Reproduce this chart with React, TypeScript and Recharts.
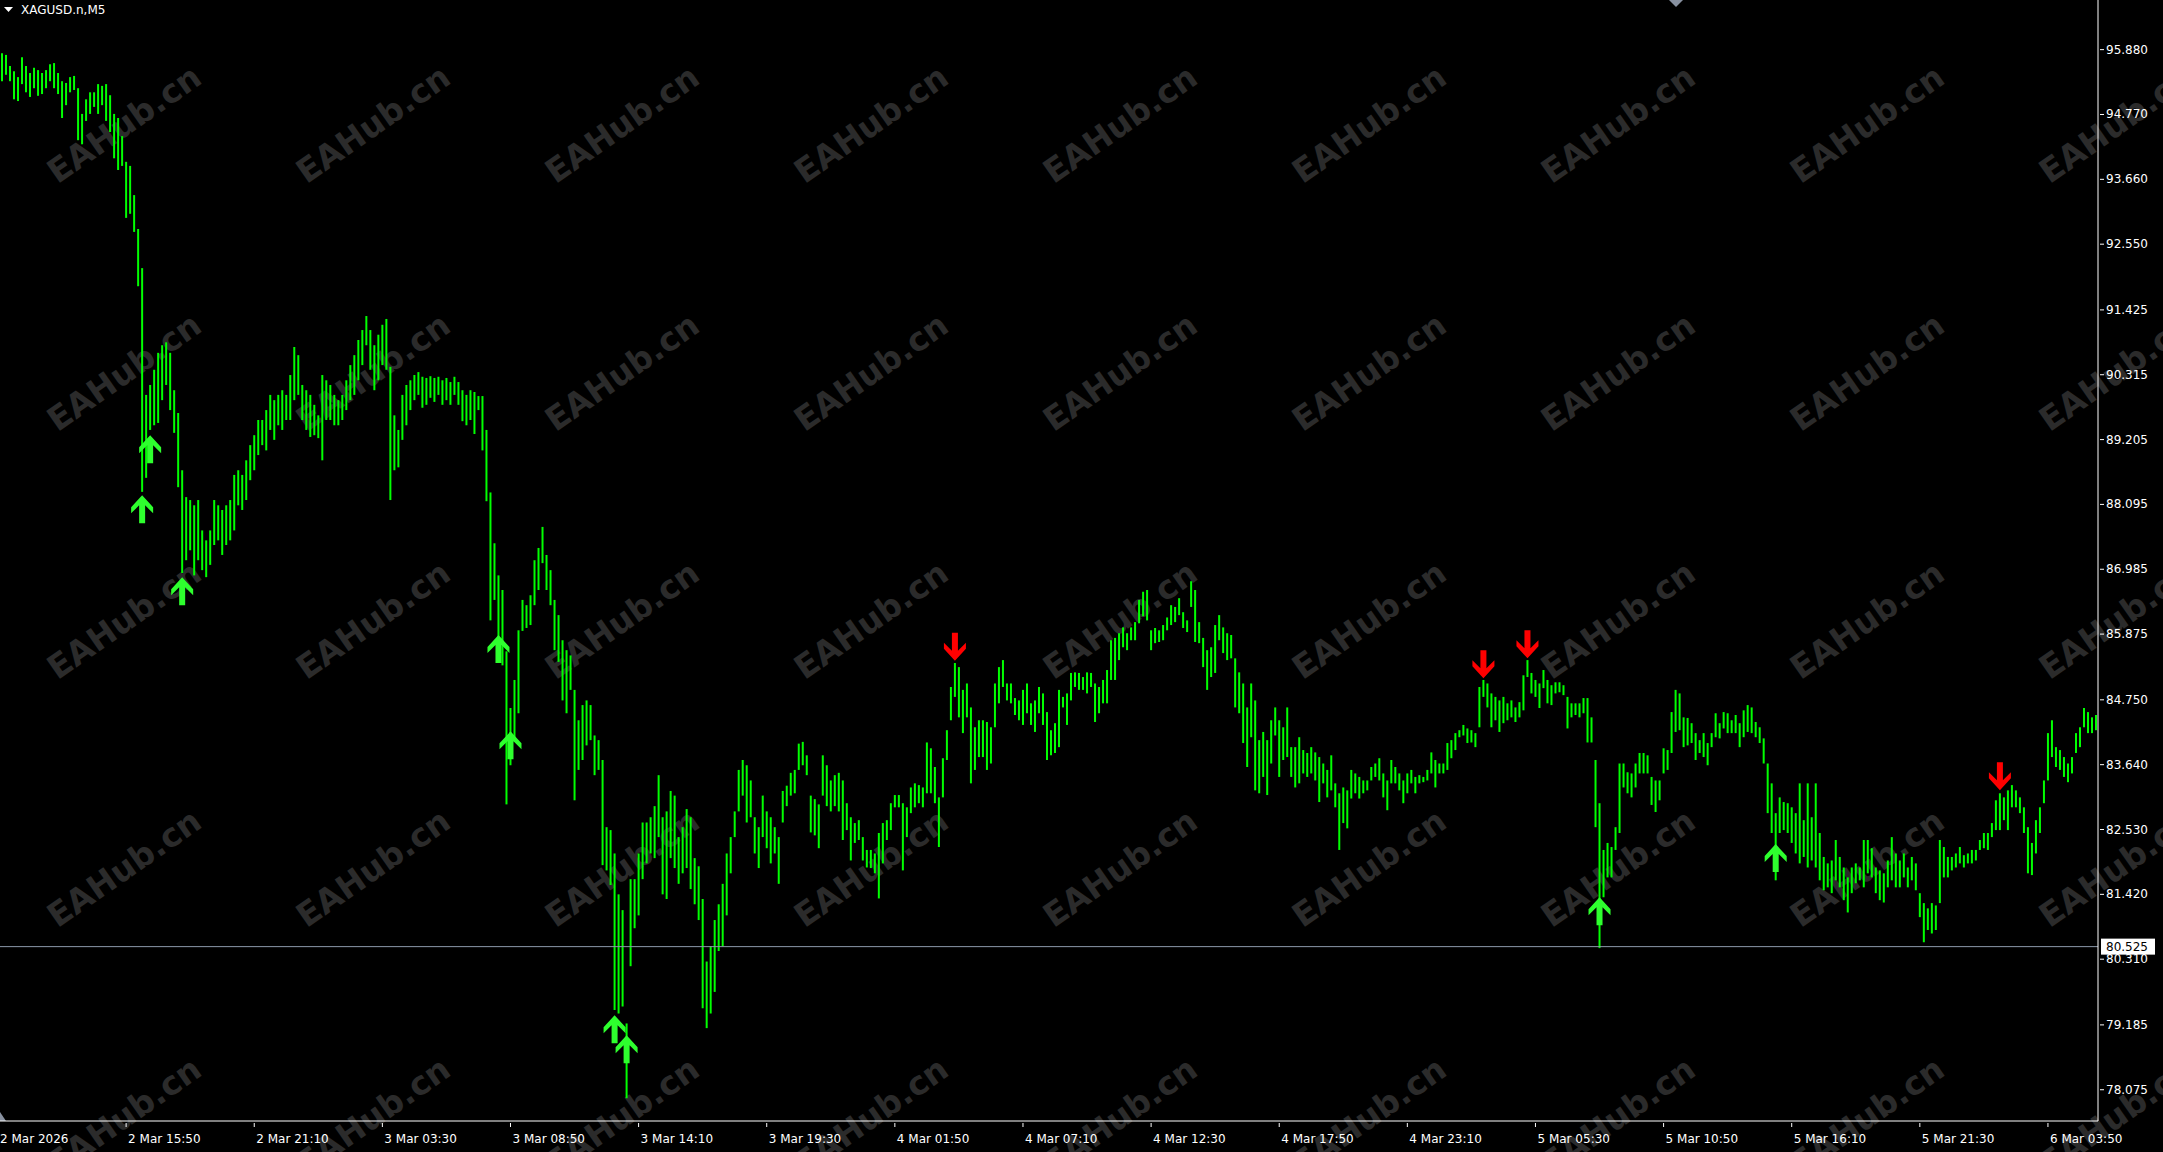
import { Bar, ComposedChart, ReferenceLine, Scatter, XAxis, YAxis } from "recharts";

const W = 2163;
const H = 1152;
const FONT = "DejaVu Sans";

const symbolTitle = "XAGUSD.n,M5";

const timeLabels = [
  "2 Mar 2026", "2 Mar 15:50", "2 Mar 21:10", "3 Mar 03:30", "3 Mar 08:50", "3 Mar 14:10",
  "3 Mar 19:30", "4 Mar 01:50", "4 Mar 07:10", "4 Mar 12:30", "4 Mar 17:50", "4 Mar 23:10",
  "5 Mar 05:30", "5 Mar 10:50", "5 Mar 16:10", "5 Mar 21:30", "6 Mar 03:50",
];

const priceTicks = [
  95.88, 94.77, 93.66, 92.55, 91.425, 90.315, 89.205, 88.095, 86.985,
  85.875, 84.75, 83.64, 82.53, 81.42, 80.31, 79.185, 78.075,
];

const bidPrice = 80.525;

// bar highs, 2 Mar -> 6 Mar
const highs = [
  95.82, 95.79, 95.60, 95.51, 95.41, 95.75, 95.60, 95.48, 95.57, 95.53,
  95.48, 95.53, 95.63, 95.65, 95.48, 95.34, 95.31, 95.41, 95.43, 95.22,
  94.78, 95.03, 95.15, 95.15, 95.29, 95.26, 95.29, 95.10, 94.78, 94.71,
  94.40, 93.96, 93.89, 93.39, 92.81, 92.14, 89.97, 90.14, 90.40, 90.69,
  90.82, 90.87, 90.69, 90.05, 89.66, 88.68, 88.22, 88.17, 88.08, 88.17,
  87.65, 87.48, 87.65, 88.17, 88.08, 88.00, 88.08, 88.17, 88.60, 88.68,
  88.60, 88.85, 89.11, 89.28, 89.54, 89.54, 89.71, 89.97, 89.88, 89.97,
  90.05, 89.97, 90.31, 90.79, 90.65, 90.14, 90.05, 89.97, 89.80, 89.62,
  90.31, 90.22, 90.14, 89.97, 89.88, 89.97, 90.22, 90.48, 90.65, 90.91,
  91.08, 91.32, 91.08, 90.82, 91.00, 91.17, 91.27, 90.45, 89.62, 89.37,
  89.97, 90.14, 90.22, 90.31, 90.36, 90.28, 90.26, 90.29, 90.26, 90.28,
  90.22, 90.26, 90.19, 90.28, 90.19, 90.05, 89.97, 90.05, 90.02, 89.95,
  89.95, 89.37, 88.30, 87.43, 86.88, 86.63, 85.58, 84.61, 85.09, 85.94,
  86.46, 86.37, 86.54, 87.14, 87.35, 87.71, 87.23, 86.97, 86.46, 86.20,
  85.77, 85.60, 85.51, 84.92, 84.40, 84.66, 84.74, 84.66, 84.14, 84.06,
  83.72, 82.57, 82.52, 82.12, 81.42, 81.15, 79.21, 81.68, 81.68, 82.12,
  82.65, 82.65, 82.74, 82.93, 83.46, 82.74, 82.84, 83.19, 83.11, 82.40,
  82.57, 82.88, 82.74, 82.04, 81.90, 81.34, 80.27, 80.53, 80.98, 81.25,
  81.60, 82.12, 82.40, 82.84, 83.55, 83.72, 83.63, 83.37, 82.74, 82.57,
  83.11, 82.84, 82.74, 82.57, 82.40, 83.19, 83.28, 83.50, 83.55, 84.00,
  84.03, 83.80, 83.11, 83.05, 82.96, 83.80, 83.63, 83.37, 83.46, 83.50,
  83.37, 82.98, 82.74, 82.64, 82.69, 82.40, 82.18, 82.18, 82.12, 82.47,
  82.64, 82.69, 82.98, 83.12, 83.12, 82.98, 82.91, 83.25, 83.32, 83.29,
  83.25, 84.02, 83.92, 83.60, 83.08, 83.75, 84.23, 84.97, 85.38, 85.31,
  84.92, 85.03, 84.62, 84.28, 84.40, 84.40, 84.37, 84.28, 85.03, 85.31,
  85.43, 85.03, 85.03, 84.78, 84.74, 84.92, 85.03, 84.69, 84.74, 84.97,
  84.86, 84.54, 84.23, 84.35, 84.92, 84.80, 84.86, 85.21, 85.22, 85.21,
  85.14, 85.22, 85.21, 85.03, 84.97, 85.09, 85.26, 85.77, 85.81, 85.89,
  85.99, 85.89, 85.99, 86.08, 86.46, 86.60, 86.63, 85.94, 85.98, 85.94,
  86.03, 86.16, 86.37, 86.34, 86.49, 86.25, 86.11, 86.78, 86.63, 86.08,
  85.81, 85.60, 85.65, 86.03, 86.20, 85.99, 85.89, 85.86, 85.46, 85.22,
  85.03, 84.62, 85.03, 84.74, 84.06, 84.20, 84.06, 84.40, 84.62, 84.40,
  84.28, 84.62, 83.94, 83.94, 84.11, 83.89, 83.84, 83.94, 83.85, 83.77,
  83.66, 83.55, 83.80, 83.32, 83.15, 83.25, 83.20, 83.55, 83.49, 83.43,
  83.37, 83.37, 83.60, 83.66, 83.75, 83.49, 83.37, 83.72, 83.60, 83.49,
  83.37, 83.49, 83.55, 83.43, 83.46, 83.43, 83.55, 83.85, 83.72, 83.66,
  83.66, 84.01, 84.06, 84.18, 84.23, 84.32, 84.26, 84.23, 84.18, 84.97,
  85.09, 85.03, 84.86, 84.80, 84.74, 84.80, 84.69, 84.74, 84.62, 84.71,
  85.17, 85.43, 85.21, 85.09, 85.03, 85.26, 85.09, 85.00, 85.05, 85.05,
  85.00, 84.80, 84.69, 84.69, 84.69, 84.78, 84.78, 84.45, 83.72, 82.98,
  82.18, 82.30, 82.23, 82.57, 83.66, 83.66, 83.51, 83.49, 83.66, 83.84,
  83.84, 83.80, 83.43, 83.37, 83.37, 83.92, 83.89, 84.54, 84.92, 84.86,
  84.45, 84.44, 84.35, 84.18, 84.06, 84.18, 84.01, 84.18, 84.52, 84.35,
  84.54, 84.52, 84.40, 84.49, 84.35, 84.57, 84.66, 84.62, 84.37, 84.28,
  84.09, 83.66, 83.32, 82.81, 83.08, 83.00, 82.98, 82.91, 82.81, 83.32,
  82.69, 83.32, 82.74, 83.32, 82.47, 82.06, 81.95, 82.00, 82.35, 82.06,
  81.88, 81.71, 81.88, 81.95, 81.88, 82.35, 82.35, 82.21, 81.88, 81.83,
  81.78, 82.00, 82.40, 82.12, 82.00, 82.12, 81.88, 82.06, 81.95, 81.44,
  81.27, 81.18, 81.27, 81.23, 82.35, 82.23, 82.06, 82.06, 82.12, 82.23,
  82.09, 82.12, 82.18, 82.18, 82.35, 82.47, 82.47, 82.64, 83.03, 83.15,
  83.08, 83.20, 83.29, 83.20, 83.08, 82.91, 82.57, 82.30, 82.69, 82.91,
  83.37, 84.18, 84.40, 83.94, 83.89, 83.77, 83.66, 83.77, 84.18, 84.28,
  84.61, 84.54, 84.45, 84.49,
];

// bar lows, same order
const lows = [
  95.34, 95.45, 95.34, 95.03, 95.00, 95.29, 95.15, 95.07, 95.22, 95.09,
  95.12, 95.22, 95.34, 95.22, 95.12, 94.71, 94.93, 95.15, 95.19, 94.33,
  94.26, 94.66, 94.78, 94.90, 94.78, 94.93, 94.66, 94.47, 94.02, 93.82,
  93.89, 93.00, 93.07, 92.76, 91.83, 88.31, 88.55, 89.37, 89.45, 89.49,
  89.88, 90.14, 89.71, 89.32, 88.39, 86.92, 87.14, 87.31, 86.88, 87.14,
  86.97, 86.85, 87.06, 87.40, 87.48, 87.23, 87.40, 87.48, 87.65, 88.08,
  88.00, 88.17, 88.51, 88.68, 88.94, 89.11, 89.02, 89.37, 89.20, 89.45,
  89.37, 89.54, 89.54, 89.88, 89.97, 89.54, 89.37, 89.25, 89.28, 89.23,
  88.85, 89.54, 89.54, 89.45, 89.45, 89.54, 89.71, 89.88, 89.97, 90.22,
  90.48, 90.82, 90.40, 90.05, 90.22, 90.48, 90.40, 88.17, 88.68, 88.73,
  89.20, 89.45, 89.71, 89.88, 89.97, 89.75, 89.80, 89.92, 89.85, 89.97,
  89.80, 89.88, 89.80, 89.97, 89.80, 89.52, 89.45, 89.54, 89.30, 89.71,
  89.02, 88.15, 86.11, 86.46, 85.51, 85.34, 82.96, 83.63, 84.06, 84.52,
  85.93, 85.98, 86.03, 86.37, 86.63, 87.09, 86.63, 86.37, 85.60, 85.40,
  84.74, 84.52, 84.92, 83.03, 83.55, 83.72, 83.97, 84.06, 83.46, 83.55,
  81.92, 81.83, 81.58, 79.44, 79.38, 79.50, 77.93, 80.19, 80.84, 81.06,
  81.68, 81.95, 82.12, 82.04, 82.40, 81.42, 81.34, 82.04, 81.87, 81.60,
  81.78, 81.87, 81.51, 81.25, 80.98, 79.47, 79.13, 79.38, 79.75, 80.45,
  80.53, 81.06, 81.78, 82.40, 82.84, 83.11, 82.65, 82.74, 82.12, 81.87,
  82.40, 82.21, 81.95, 82.12, 81.60, 82.65, 82.93, 83.11, 83.15, 83.55,
  83.63, 83.46, 82.48, 82.43, 82.21, 83.11, 82.93, 82.84, 82.93, 82.84,
  82.35, 82.52, 82.00, 82.30, 82.35, 82.00, 81.88, 81.87, 81.78, 81.35,
  81.95, 82.35, 82.52, 82.91, 82.91, 81.83, 82.40, 82.81, 82.91, 82.98,
  82.91, 83.15, 83.15, 82.98, 82.23, 83.08, 83.72, 84.40, 84.80, 84.45,
  84.18, 84.45, 83.32, 83.55, 83.77, 83.77, 83.55, 83.66, 84.28, 84.69,
  84.97, 84.74, 84.69, 84.49, 84.40, 84.32, 84.52, 84.32, 84.20, 84.52,
  84.32, 83.72, 83.80, 83.84, 83.94, 84.62, 84.32, 84.74, 84.97, 84.92,
  84.92, 84.86, 84.97, 84.37, 84.52, 84.69, 84.69, 85.09, 85.09, 85.43,
  85.65, 85.60, 85.77, 85.77, 86.06, 86.18, 86.11, 85.60, 85.72, 85.74,
  85.77, 85.94, 86.03, 86.08, 86.20, 85.98, 85.91, 86.34, 85.74, 85.72,
  85.31, 84.92, 85.14, 85.21, 85.77, 85.55, 85.43, 85.46, 84.62, 84.52,
  84.01, 83.60, 84.11, 83.20, 83.15, 83.43, 83.12, 83.66, 84.14, 83.43,
  83.72, 83.77, 83.43, 83.25, 83.32, 83.49, 83.43, 83.49, 83.37, 83.00,
  83.32, 83.08, 83.20, 82.91, 82.18, 82.64, 82.55, 83.06, 83.15, 83.06,
  83.15, 83.20, 83.37, 83.43, 83.37, 83.08, 82.86, 83.32, 83.32, 83.20,
  82.98, 83.15, 83.32, 83.15, 83.32, 83.34, 83.37, 83.49, 83.25, 83.49,
  83.49, 83.55, 83.75, 83.89, 84.11, 84.14, 84.01, 84.02, 83.94, 84.28,
  84.80, 84.62, 84.28, 84.40, 84.20, 84.35, 84.40, 84.45, 84.37, 84.45,
  84.57, 85.14, 84.86, 84.80, 84.61, 84.95, 84.69, 84.66, 84.86, 84.88,
  84.83, 84.26, 84.45, 84.49, 84.45, 84.52, 84.02, 84.02, 82.57, 80.50,
  81.37, 81.71, 81.71, 82.18, 82.47, 83.25, 83.15, 83.08, 83.25, 83.49,
  83.49, 83.49, 82.95, 82.83, 83.03, 83.49, 83.55, 83.84, 84.20, 84.23,
  83.94, 83.97, 84.01, 83.72, 83.84, 83.77, 83.63, 83.94, 84.11, 84.09,
  84.26, 84.18, 84.18, 84.18, 83.94, 84.11, 84.20, 84.18, 84.11, 84.01,
  83.66, 82.81, 82.47, 81.66, 82.47, 82.52, 82.47, 82.30, 82.12, 81.95,
  82.06, 81.88, 82.00, 81.88, 81.66, 81.49, 81.54, 81.44, 81.66, 81.54,
  81.32, 81.11, 81.44, 81.61, 81.66, 81.54, 81.78, 81.71, 81.44, 81.32,
  81.28, 81.54, 81.66, 81.54, 81.54, 81.71, 81.54, 81.66, 81.49, 81.03,
  80.60, 80.81, 80.75, 80.81, 81.27, 81.71, 81.71, 81.83, 81.88, 81.95,
  81.88, 81.95, 81.95, 82.00, 82.18, 82.21, 82.18, 82.40, 82.52, 82.52,
  82.69, 82.52, 82.91, 82.91, 82.81, 82.47, 81.78, 81.75, 82.12, 82.47,
  82.98, 83.37, 83.77, 83.60, 83.55, 83.43, 83.34, 83.49, 83.84, 83.94,
  84.28, 84.18, 84.18, 84.23,
];

// [bar index, arrow tip price]
const buySignals = [
  [35, 88.25], [37, 89.28], [45, 86.85], [124, 85.86], [127, 84.21],
  [153, 79.35], [156, 79.01], [399, 81.37], [443, 82.28],
];
const sellSignals = [[238, 85.42], [370, 85.12], [381, 85.46], [499, 83.2]];

const buyAt = new Map(buySignals.map(([i, p]) => [i, p]));
const sellAt = new Map(sellSignals.map(([i, p]) => [i, p]));

const rows = highs.map((h, i) => ({
  i,
  range: [lows[i], h],
  buy: buyAt.has(i) ? buyAt.get(i) : null,
  sell: sellAt.has(i) ? sellAt.get(i) : null,
}));

// one time label every 64 M5 bars (32 drawn bars)
const labelTicks = timeLabels.map((_, k) => (k === 0 ? 0 : k * 32 - 1));
const labelAt = new Map(labelTicks.map((t, k) => [t, timeLabels[k]]));

function TimeTick({ x, y, payload }: any) {
  const first = payload.value === 0;
  return (
    <g>
      {!first && <line x1={x} y1={y} x2={x} y2={y + 4} stroke="#ffffff" />}
      <text
        x={first ? 0 : x + 2}
        y={y + 16}
        fill="#ffffff"
        fontSize={12}
        fontFamily={FONT}
        dominantBaseline="central"
      >
        {labelAt.get(payload.value)}
      </text>
    </g>
  );
}

function PriceTick({ x, y, payload }: any) {
  const v = payload.value;
  if (v === bidPrice) {
    return (
      <g>
        <rect x={x + 1} y={y - 8} width={54} height={16} fill="#ffffff" />
        <text x={x + 6} y={y} fill="#000000" fontSize={12} fontFamily={FONT} dominantBaseline="central">
          {v.toFixed(3)}
        </text>
      </g>
    );
  }
  return (
    <g>
      <line x1={x} y1={y} x2={x + 4} y2={y} stroke="#ffffff" />
      <text x={x + 6} y={y} fill="#ffffff" fontSize={12} fontFamily={FONT} dominantBaseline="central">
        {v.toFixed(3)}
      </text>
    </g>
  );
}

const UP_ARROW = "0,0 11,12 11,18 3,10 3,28 -3,28 -3,10 -11,18 -11,12";
const DOWN_ARROW = "0,0 11,-12 11,-18 3,-10 3,-28 -3,-28 -3,-10 -11,-18 -11,-12";

function BuyArrow({ cx, cy, payload }: any) {
  if (payload == null || payload.buy == null) return <g />;
  return <polygon transform={`translate(${cx},${cy})`} points={UP_ARROW} fill="#2eff2e" />;
}

function SellArrow({ cx, cy, payload }: any) {
  if (payload == null || payload.sell == null) return <g />;
  return <polygon transform={`translate(${cx},${cy})`} points={DOWN_ARROW} fill="#ff0000" />;
}

function Watermarks() {
  const marks = [];
  for (let m = 0; m < 5; m++) {
    for (let k = 0; k < 9; k++) {
      const cx = 124 + 249 * k;
      const cy = 124 + 248 * m;
      marks.push(
        <text
          key={`${m}-${k}`}
          x={cx}
          y={cy}
          textAnchor="middle"
          dominantBaseline="central"
          fontFamily={FONT}
          fontWeight="bold"
          fontSize={33}
          fill="#2b2b2b"
          transform={`rotate(-35 ${cx} ${cy})`}
        >
          EAHub.cn
        </text>
      );
    }
  }
  return <>{marks}</>;
}

export default function App() {
  return (
    <div style={{ position: "relative", width: W, height: H, background: "#000000", overflow: "hidden" }}>
      <style>{"body{margin:0;background:#000000;}"}</style>
      <svg width={W} height={H} style={{ position: "absolute", left: 0, top: 0 }}>
        <Watermarks />
        <polygon points="4,7 13,7 8.5,12" fill="#ffffff" />
        <text x={21} y={10} fill="#ffffff" fontSize={12} fontFamily={FONT} dominantBaseline="central">
          {symbolTitle}
        </text>
        <polygon points="1669,0 1683,0 1676,7" fill="#8891a0" />
        <polygon points="0,1112 6,1121 0,1121" fill="#8891a0" />
      </svg>
      <div style={{ position: "absolute", left: 0, top: 0 }}>
        <ComposedChart width={W} height={H} data={rows} margin={{ top: 0, right: 0, bottom: 0, left: 0 }}>
          <XAxis
            dataKey="i"
            type="category"
            height={31}
            ticks={labelTicks}
            interval={0}
            tick={<TimeTick />}
            tickLine={false}
            tickSize={0}
            axisLine={{ stroke: "#ffffff" }}
          />
          <YAxis
            orientation="right"
            type="number"
            width={65}
            domain={[77.54, 96.73]}
            allowDataOverflow
            ticks={[...priceTicks, bidPrice]}
            interval={0}
            tick={<PriceTick />}
            tickLine={false}
            tickSize={0}
            axisLine={{ stroke: "#ffffff" }}
          />
          <ReferenceLine y={bidPrice} stroke="#8c9aab" strokeWidth={1} />
          <Bar dataKey="range" fill="#00ff00" barSize={2} isAnimationActive={false} />
          <Scatter dataKey="buy" shape={<BuyArrow />} isAnimationActive={false} />
          <Scatter dataKey="sell" shape={<SellArrow />} isAnimationActive={false} />
        </ComposedChart>
      </div>
    </div>
  );
}
